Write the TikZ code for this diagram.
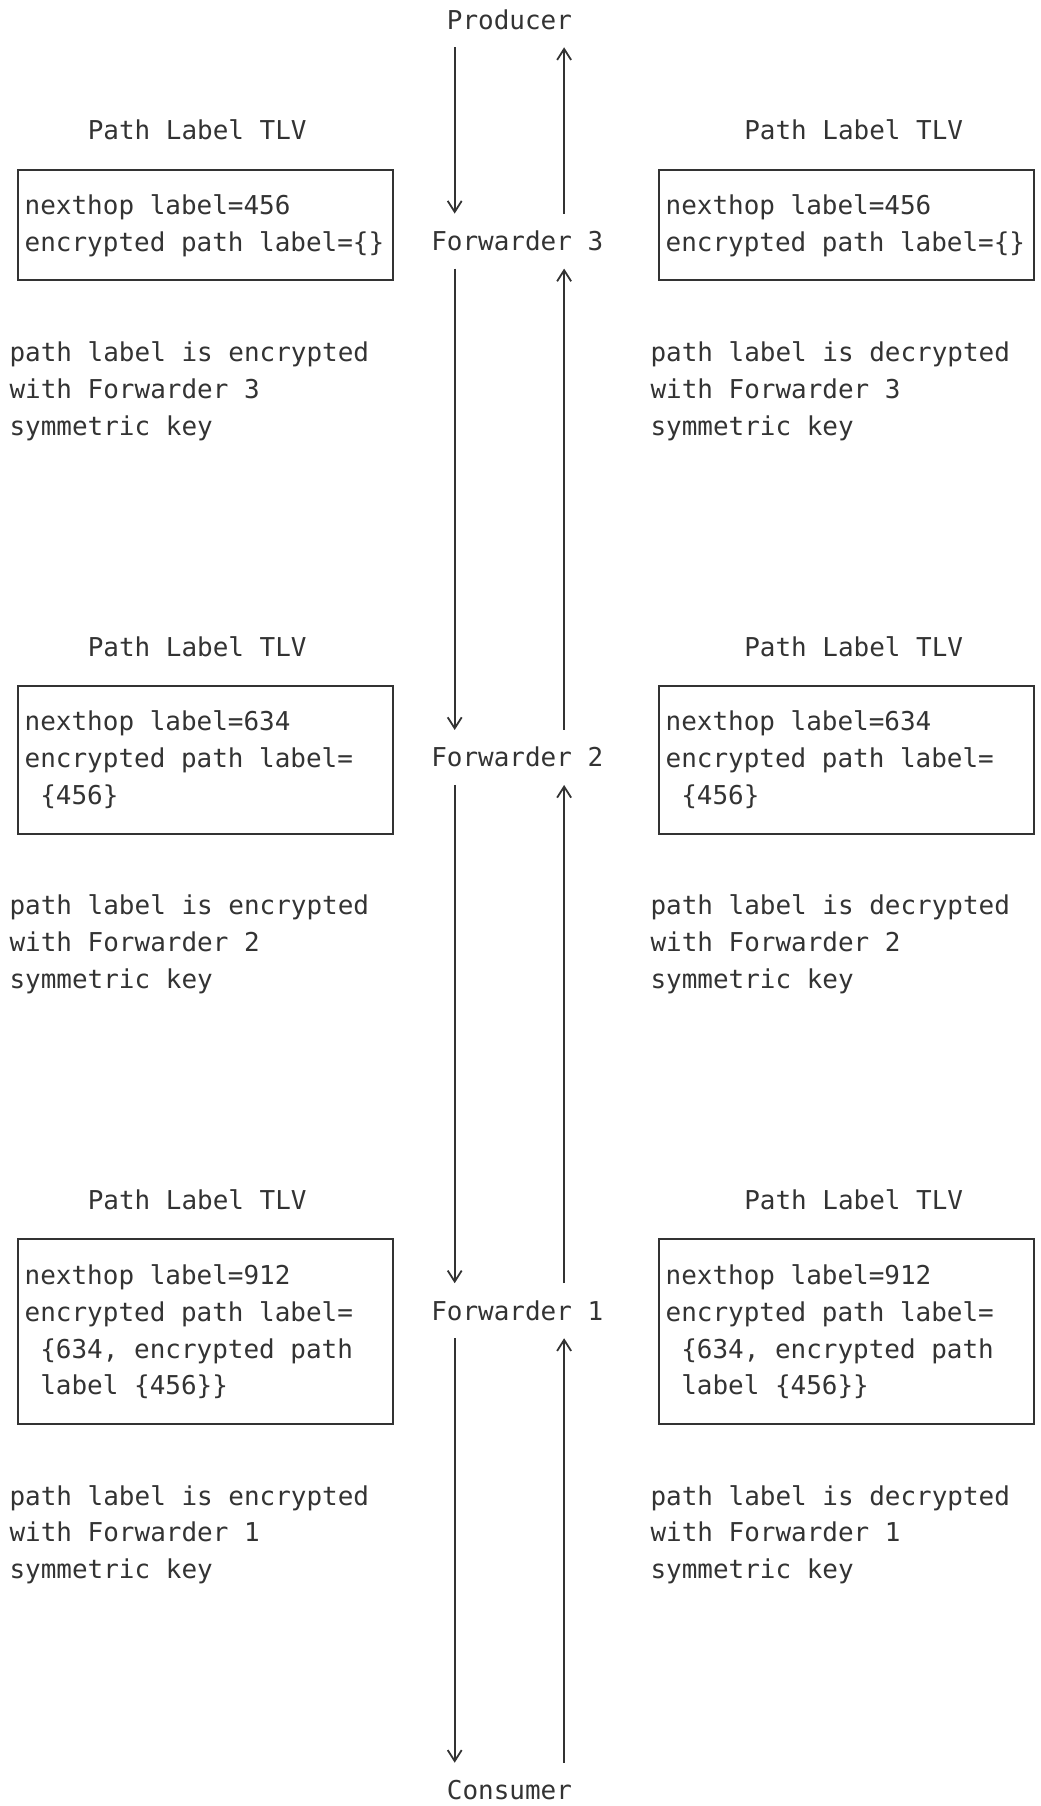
\documentclass[tikz,border=0pt]{standalone}
\usepackage{fontspec}
\usetikzlibrary{arrows.meta}
\newfontfamily\asciimono{DejaVu Sans Mono}
\definecolor{ink}{HTML}{333333}
\setlength\parindent{0pt}
\newcommand\rs{\rule[-5.22pt]{0pt}{18.44pt}}
\newcommand\fixsp{\spaceskip=7.8146pt\xspaceskip=7.8146pt\relax}

\begin{document}
\begin{tikzpicture}[x=7.815pt, y=-18.44pt,
    every node/.style={font=\asciimono\fontsize{12.98pt}{18.44pt}\selectfont, text=ink, inner sep=0pt},
    hop/.style={anchor=base, text height=9.5pt, text depth=0pt, outer ysep=9pt},
    tlvbox/.style={draw=ink, line width=0.9pt, anchor=north west, align=left,
        text width=180.745pt, inner xsep=3.4075pt, inner ysep=9.22pt},
    note/.style={anchor=north west, align=left},
    title/.style={anchor=base west},
    flow/.style={draw=ink, line width=0.9pt, -{Straight Barb[length=5.5pt,width=7pt]}}]
    \useasboundingbox (-1.088,-0.794) rectangle (65.45,48.17);
    \coordinate (dn) at (28,0);
    \coordinate (up) at (35,0);
    \node[hop] (prod) at (31.5,0) {Producer};
    \node[hop] (fwd3) at (32,6) {Forwarder 3};
    \node[hop] (fwd2) at (32,20) {Forwarder 2};
    \node[hop] (fwd1) at (32,35) {Forwarder 1};
    \node[hop] (cons) at (31.5,48) {Consumer};
    \foreach \a/\b in {prod/fwd3, fwd3/fwd2, fwd2/fwd1, fwd1/cons} {
        \draw[flow] (\a.south -| dn) -- (\b.north -| dn);
        \draw[flow] (\b.north -| up) -- (\a.south -| up);
    }
    \foreach \s/\x/\t/\w in {L/0/4.5/encrypted, R/41/46.5/decrypted} {
        \node[title] (ttl\s3) at (\t,3) {Path Label TLV};
        \node[tlvbox] (tlv\s3) at (\x,3.783) {\fixsp\rs nexthop label=456\\\rs encrypted path label=\{\}};
        \node[note] (note\s3) at (\x-0.5,8.283) {\rs path label is \w\\\rs with Forwarder 3\\\rs symmetric key};
        \node[title] (ttl\s2) at (\t,17) {Path Label TLV};
        \node[tlvbox] (tlv\s2) at (\x,17.783) {\fixsp\rs nexthop label=634\\\rs encrypted path label=\\\rs\hphantom{0}\{456\}};
        \node[note] (note\s2) at (\x-0.5,23.283) {\rs path label is \w\\\rs with Forwarder 2\\\rs symmetric key};
        \node[title] (ttl\s1) at (\t,32) {Path Label TLV};
        \node[tlvbox] (tlv\s1) at (\x,32.783) {\fixsp\rs nexthop label=912\\\rs encrypted path label=\\\rs\hphantom{0}\{634, encrypted path\\\rs\hphantom{0}label \{456\}\}};
        \node[note] (note\s1) at (\x-0.5,39.283) {\rs path label is \w\\\rs with Forwarder 1\\\rs symmetric key};
    }
\end{tikzpicture}
\end{document}
